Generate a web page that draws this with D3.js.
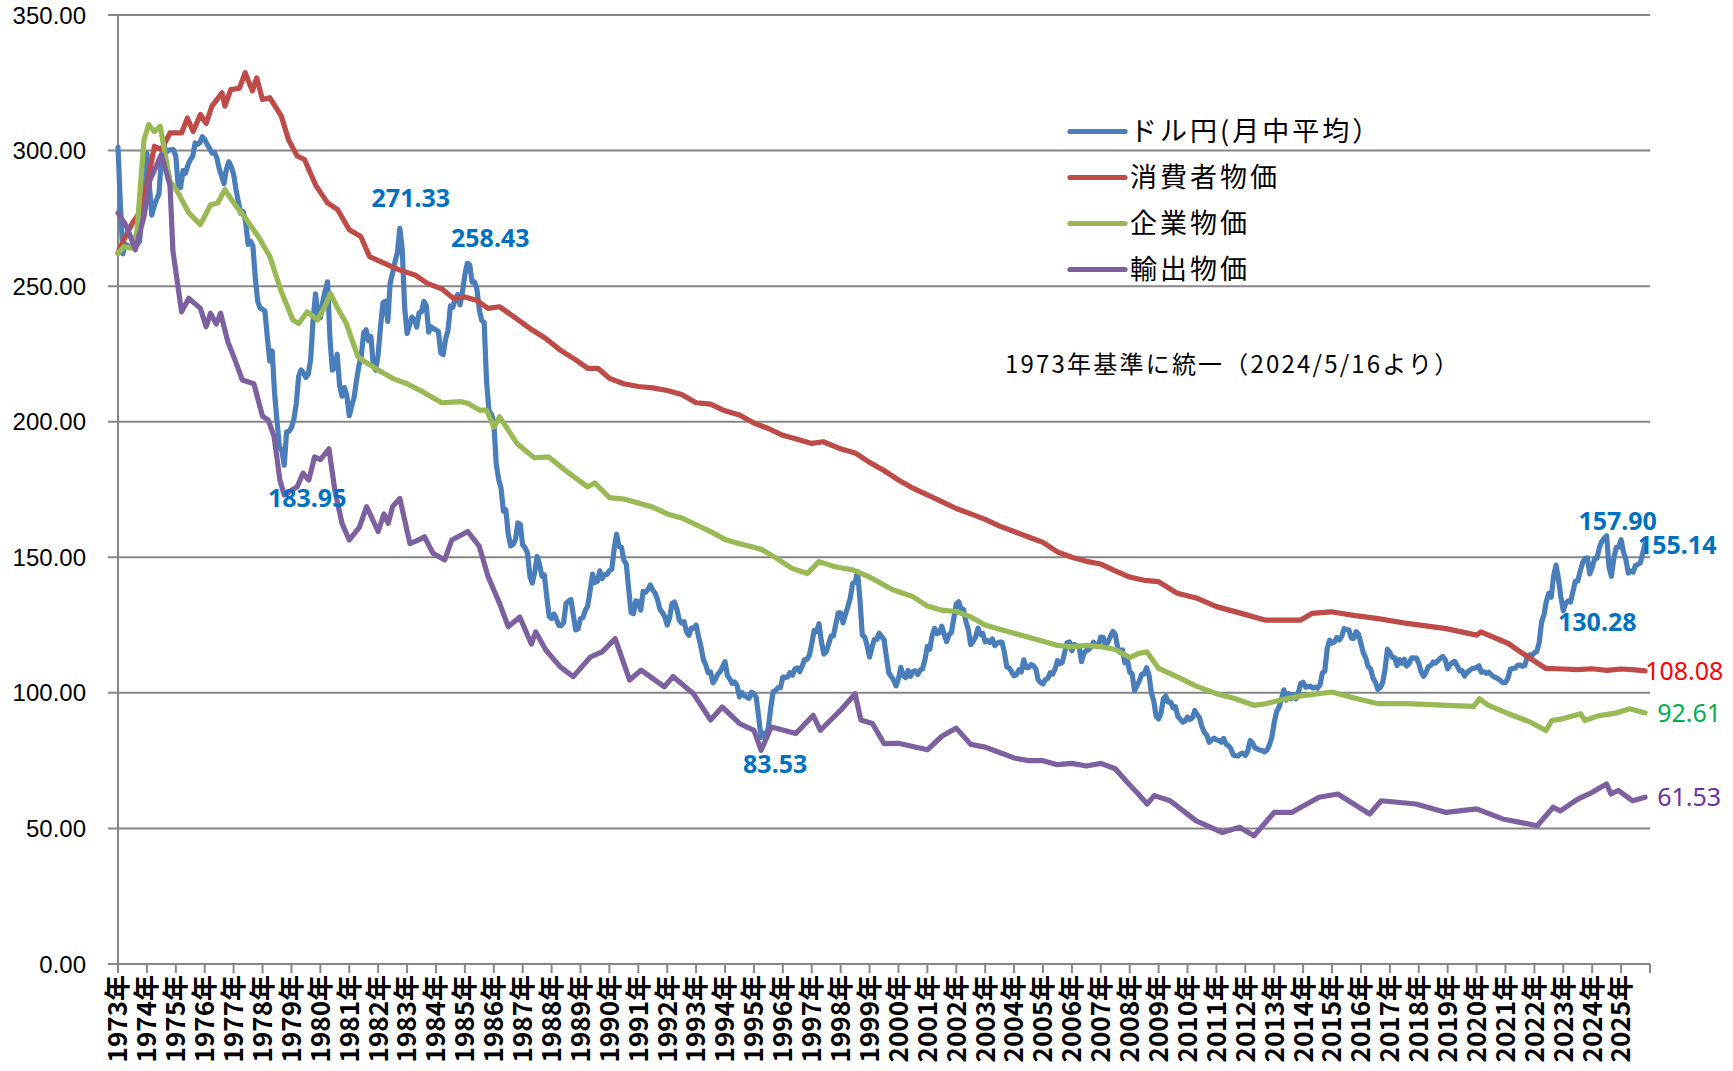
<!DOCTYPE html>
<html>
<head>
<meta charset="utf-8">
<script src="https://cdn.jsdelivr.net/npm/d3@7/dist/d3.min.js"></script>
<style>
  body { margin: 0; background: #ffffff; }
</style>
</head>
<body>
<div id="chart"></div>
<script>
// 目盛ラベル（年）
const yearLabels = ["1973","1974","1975","1976","1977","1978","1979","1980","1981","1982",
  "1983","1984","1985","1986","1987","1988","1989","1990","1991","1992","1993","1994",
  "1995","1996","1997","1998","1999","2000","2001","2002","2003","2004","2005","2006",
  "2007","2008","2009","2010","2011","2012","2013","2014","2015","2016","2017","2018",
  "2019","2020","2021","2022","2023","2024","2025"];
const yTicks = [0, 50, 100, 150, 200, 250, 300, 350];
const seriesNames = ["ドル円(月中平均）", "消費者物価", "企業物価", "輸出物価"];

// ドル円 月中平均 1973年1月から（1行 = 1年）
const usdJpy = [
  301.15,280.0,261.9,265.5,264.6,264.9,264.3,265.3,265.4,266.6,279.1,280.0,
  299.0,287.6,276.2,279.4,281.9,284.1,297.0,302.3,299.4,300.1,300.3,300.4,
  297.9,286.7,286.4,292.6,291.6,294.6,296.6,297.8,302.8,302.3,302.9,305.1,
  304.1,302.3,300.8,299.1,299.4,297.4,293.4,290.6,287.8,293.1,295.9,294.1,
  291.2,285.6,280.9,276.8,277.4,273.6,265.4,266.6,264.8,253.1,244.4,241.9,
  241.5,240.8,231.2,222.3,226.1,210.6,200.4,190.7,189.4,183.95,196.3,196.4,
  197.9,200.9,206.5,216.8,219.1,218.0,216.3,217.6,223.2,237.6,247.2,239.8,
  238.3,244.3,248.2,251.6,230.6,219.0,220.2,224.9,213.4,209.4,212.6,209.7,
  202.2,205.7,208.9,215.1,220.6,224.2,232.8,233.9,229.8,231.4,220.6,219.0,
  224.8,235.2,243.9,244.4,237.0,251.2,254.8,259.0,262.4,271.33,263.6,242.1,
  232.5,235.6,238.6,237.7,234.9,240.2,240.5,244.4,242.7,233.0,235.0,234.3,
  233.9,233.3,225.4,224.8,230.5,233.6,242.7,242.2,245.2,246.9,243.1,247.9,
  254.2,258.43,257.9,251.5,251.6,248.9,241.3,237.3,236.6,214.8,204.1,202.8,
  200.1,184.6,178.8,175.6,167.0,167.5,158.6,154.2,154.7,156.5,162.7,162.1,
  154.5,153.5,151.6,143.0,140.5,144.5,150.3,147.3,143.0,143.5,135.4,128.2,
  127.4,129.1,127.2,124.9,124.8,125.9,133.0,133.8,134.4,128.9,123.2,123.6,
  127.4,127.8,130.4,132.0,137.8,143.8,140.7,141.1,145.0,142.1,143.5,143.7,
  145.1,145.5,153.2,158.5,154.0,153.7,149.0,147.5,138.4,129.6,129.2,133.9,
  133.7,130.5,137.4,137.1,138.2,139.8,137.9,136.8,134.3,130.8,129.6,128.1,
  125.0,127.7,132.9,133.5,130.9,126.9,125.7,126.2,122.6,121.2,123.9,123.9,
  125.0,120.8,117.1,112.3,110.3,107.4,107.7,103.7,105.1,106.9,107.8,109.7,
  111.5,106.3,105.1,103.5,104.0,102.7,98.5,100.1,99.0,98.4,98.0,100.2,
  99.8,98.2,90.8,83.53,85.1,84.6,87.2,94.6,100.5,100.9,101.9,101.9,
  105.8,105.7,105.9,107.4,106.5,108.8,109.2,107.8,109.8,112.3,112.3,113.9,
  118.1,123.0,122.6,125.5,119.0,114.3,115.1,117.9,120.9,121.0,125.4,129.5,
  129.5,125.8,129.0,131.8,135.0,140.4,140.7,144.7,134.5,121.3,120.6,117.4,
  113.2,116.7,119.7,119.7,122.0,120.7,119.7,113.3,107.4,106.0,104.7,102.6,
  105.2,109.4,106.3,105.6,108.3,106.1,107.9,108.1,106.8,108.4,108.9,112.2,
  117.1,116.1,121.2,123.8,121.8,122.2,124.6,121.5,118.9,121.5,122.4,127.6,
  132.7,133.6,131.1,130.8,126.3,123.3,117.8,119.0,120.5,123.9,121.6,121.9,
  118.8,119.3,118.6,119.9,117.4,118.3,118.7,118.7,114.8,109.5,109.2,107.7,
  106.3,106.7,108.5,107.7,112.2,109.4,109.3,110.4,110.0,108.9,104.9,103.8,
  103.3,104.9,105.3,107.4,106.9,108.7,111.9,110.7,111.2,114.8,118.5,118.8,
  115.5,117.9,117.3,117.1,111.5,114.6,115.6,115.9,117.1,118.7,117.3,117.3,
  120.6,120.5,117.3,118.8,120.8,122.6,121.6,116.7,115.0,115.8,111.1,112.4,
  107.7,107.1,100.8,102.7,104.4,106.9,106.9,109.3,106.6,100.1,96.9,91.3,
  90.4,92.5,97.9,98.8,96.6,96.6,94.5,94.9,91.3,90.3,89.2,89.6,
  91.1,90.2,90.7,93.5,92.0,90.8,87.5,85.4,84.4,81.8,82.6,83.3,
  82.6,82.5,81.8,83.2,81.1,80.5,79.4,77.1,76.8,76.7,77.5,77.8,
  76.9,78.5,82.4,81.5,79.7,79.3,78.9,78.7,78.2,78.9,80.8,83.6,
  89.1,93.1,94.8,97.7,101.1,97.3,99.7,97.8,99.2,97.8,100.1,103.5,
  103.9,102.1,102.3,102.5,101.8,102.1,101.7,102.9,107.4,108.0,116.4,119.4,
  118.3,118.8,120.4,119.5,120.8,123.7,123.3,123.2,120.2,120.1,122.6,121.6,
  118.2,114.7,112.9,109.6,108.9,105.5,103.9,101.3,101.9,103.8,108.6,116.1,
  114.9,113.1,112.9,110.1,112.3,110.9,112.4,109.9,110.8,112.9,112.8,112.9,
  110.9,107.8,106.1,107.6,109.7,110.1,111.4,111.0,111.9,112.8,113.4,112.2,
  108.9,110.4,111.2,111.6,109.8,108.1,108.2,106.2,107.5,108.2,108.9,109.1,
  109.3,110.0,107.6,107.8,107.2,107.6,106.8,106.0,105.6,105.2,104.4,103.8,
  103.8,105.4,108.7,109.0,109.1,110.1,110.3,109.8,110.1,113.1,114.0,113.8,
  114.8,115.2,118.5,126.2,128.8,133.9,136.7,135.3,143.2,147.1,142.1,135.4,
  130.28,133.0,133.9,133.5,137.3,141.2,141.2,144.8,147.9,149.6,149.7,143.9,
  146.3,149.5,149.7,153.6,155.9,157.0,157.90,146.3,143.0,149.8,153.7,153.7,
  156.5,151.9,149.1,144.2,144.9,144.5,147.0,147.4,147.9,151.5,155.14
];

// 購買力平価（1973年基準） [年（小数）, 値] — 図から読み取り
const cpiPpp = [
  [1973.0,262.2],[1973.2,267],[1973.5,273.3],[1973.7,276.4],[1974.0,287],[1974.26,301.6],
  [1974.5,300.4],[1974.8,306.5],[1975.2,306.5],[1975.4,312],[1975.6,307],[1975.85,313.3],
  [1976.05,310],[1976.25,316.4],[1976.6,321.3],[1976.7,316.4],[1976.9,322.5],[1977.2,323],
  [1977.4,328.7],[1977.65,322],[1977.8,326.8],[1978.0,318.8],[1978.25,319.5],[1978.65,312.7],
  [1978.9,304],[1979.2,298],[1979.45,296.7],[1979.85,287],[1980.25,280.7],[1980.6,278.2],
  [1981.0,270.8],[1981.4,268.3],[1981.7,260.9],[1982.2,258.5],[1982.75,255.9],[1983.3,254],
  [1983.7,251],[1984.2,249],[1984.6,245.5],[1985.0,246],[1985.4,244.8],[1985.8,241.8],
  [1986.2,242.4],[1986.7,238.7],[1987.25,234.4],[1987.8,230.7],[1988.3,226.4],[1988.85,222.7],
  [1989.25,219.7],[1989.6,219.7],[1990.0,216],[1990.5,214],[1991.0,213],[1991.5,212.5],
  [1992.0,211.5],[1992.5,210],[1993.0,207],[1993.5,206.5],[1994.0,204],[1994.5,202.5],
  [1995.0,199.5],[1995.5,197.5],[1996.0,195],[1996.5,193.5],[1997.0,192],[1997.4,192.6],
  [1998.0,190],[1998.5,188.5],[1999.0,185],[1999.5,182],[2000.0,178.5],[2000.5,175.5],
  [2001.0,173],[2001.5,170.5],[2002.0,168],[2002.5,166],[2003.0,164],[2003.5,161.5],
  [2004.0,159.5],[2004.5,157.5],[2005.0,155.5],[2005.5,152],[2006.0,150],[2006.5,148.5],
  [2007.0,147.5],[2007.5,145],[2008.0,142.7],[2008.5,141.5],[2009.0,141],[2009.65,136.7],
  [2010.3,135],[2011.0,131.8],[2011.8,129.5],[2012.7,126.8],[2013.9,126.8],[2014.3,129.3],
  [2014.97,129.9],[2015.8,128.5],[2016.6,127.4],[2017.6,125.6],[2018.95,123.7],[2020.0,121.3],
  [2020.15,122.5],[2021.1,118.2],[2021.6,114.5],[2022.4,109],[2023.0,108.8],[2023.5,108.6],
  [2024.0,108.9],[2024.5,108.3],[2025.0,108.8],[2025.5,108.5],[2025.83,108.08]
];

const ppiPpp = [
  [1973.0,262],[1973.2,264.6],[1973.45,264],[1973.65,269.6],[1973.9,304],[1974.06,309.6],
  [1974.26,307],[1974.46,309],[1974.8,288.7],[1975.05,285],[1975.45,277],[1975.85,272.7],
  [1976.2,280],[1976.45,280.7],[1976.7,285.6],[1977.05,280],[1977.45,274.5],[1977.85,268.3],
  [1978.25,261],[1978.65,248],[1979.05,237.5],[1979.25,236.2],[1979.55,240.5],[1979.9,237.5],
  [1980.15,242.4],[1980.35,247.3],[1980.6,241.8],[1980.9,236.2],[1981.3,224],[1981.55,222],
  [1982.1,218.4],[1982.5,216],[1983.0,214],[1983.55,211],[1984.2,207],[1984.85,207.4],
  [1985.1,206.8],[1985.5,204.3],[1985.75,204.3],[1986.0,198],[1986.2,201.8],[1986.8,192],
  [1987.4,186.7],[1987.9,187],[1988.6,181],[1989.25,176],[1989.5,177.4],[1990.0,172],
  [1990.5,171.5],[1991.0,170],[1991.5,168.5],[1992.0,166],[1992.5,164.5],[1993.0,162],
  [1993.5,159.5],[1994.0,156.6],[1994.5,155],[1995.0,153.7],[1995.3,152.7],[1995.8,149.5],
  [1996.3,146],[1996.85,144],[1997.25,148.4],[1997.8,146.5],[1998.45,145.3],[1999.0,142.7],
  [1999.8,138],[2000.5,135.5],[2001.0,132],[2001.5,130.5],[2002.0,130],[2002.5,128],
  [2003.0,125],[2003.5,123.5],[2004.0,122],[2004.5,120.5],[2005.0,119],[2005.5,117.5],
  [2006.0,117],[2006.5,117.5],[2007.0,117],[2007.5,116],[2008.0,113],[2008.3,114.5],
  [2008.6,115.1],[2009.0,109],[2009.65,105.9],[2010.3,102.5],[2011.0,99.7],[2011.6,98],
  [2012.3,95.4],[2012.7,96],[2013.4,97.8],[2014.0,99],[2015.0,100.3],[2015.8,98],
  [2016.6,96],[2017.6,96],[2019.0,95.4],[2019.9,95],[2020.1,97.8],[2020.4,95.5],
  [2021.1,92.3],[2021.8,89.5],[2022.4,86.1],[2022.6,89.8],[2023.0,90.5],[2023.6,92.3],
  [2023.75,89.8],[2024.2,91.5],[2024.8,92.5],[2025.3,94.1],[2025.83,92.61]
];

const exportPpp = [
  [1973.0,277],[1973.15,274.5],[1973.3,272],[1973.6,263.4],[1973.9,275.7],[1974.1,289],
  [1974.5,298.5],[1974.8,287],[1974.9,263],[1975.2,240.5],[1975.45,245.5],[1975.85,241.8],
  [1976.05,235],[1976.2,240],[1976.4,236],[1976.55,240],[1976.8,229.5],[1977.05,222.7],
  [1977.3,215.4],[1977.7,214],[1978.0,202],[1978.2,200.6],[1978.4,194.5],[1978.6,178.5],
  [1978.75,173],[1979.2,176],[1979.4,181],[1979.6,178.5],[1979.8,187],[1980.0,186],
  [1980.3,190],[1980.5,174.8],[1980.75,162.5],[1981.0,156.4],[1981.35,161],[1981.6,168.7],
  [1982.0,159.5],[1982.2,166],[1982.35,162.5],[1982.5,168.7],[1982.75,171.7],[1983.1,155],
  [1983.4,156.4],[1983.6,157.6],[1983.9,151.5],[1984.3,149],[1984.55,156.4],[1985.1,159.5],
  [1985.5,154],[1985.8,143],[1986.2,133],[1986.5,124.4],[1986.9,128],[1987.3,118],
  [1987.45,122.5],[1987.8,115.8],[1988.3,109.6],[1988.75,106],[1989.35,113.3],[1989.75,115.1],
  [1990.2,120],[1990.7,104.7],[1991.1,108.4],[1991.9,102.2],[1992.2,106],[1992.9,99.8],
  [1993.5,90],[1993.9,94.8],[1994.5,88.7],[1995.0,86.2],[1995.25,78.8],[1995.6,87.4],
  [1996.45,85],[1997.05,91.7],[1997.3,86.2],[1998.0,93.6],[1998.5,99.7],[1998.7,90],
  [1999.1,88.7],[1999.5,81.3],[2000.0,81.4],[2001.0,79],[2001.5,84],[2002.0,87],
  [2002.5,81],[2003.0,80],[2003.5,78],[2004.0,76],[2004.5,75],[2005.0,75],
  [2005.5,73.5],[2006.0,74],[2006.5,73],[2007.0,74],[2007.5,72],[2008.0,66],
  [2008.3,62.7],[2008.6,59],[2008.85,62.1],[2009.4,60.2],[2010.3,52.8],[2011.2,48.5],
  [2011.8,50.4],[2012.3,47.3],[2013.0,55.9],[2013.6,55.9],[2014.55,61.5],[2015.2,62.7],
  [2016.3,55.3],[2016.7,60.2],[2017.9,59],[2018.95,55.9],[2020.0,57.2],[2020.9,53.5],
  [2022.1,51],[2022.65,57.8],[2022.9,56.5],[2023.5,60.8],[2024.0,63.3],[2024.5,66.4],
  [2024.65,62.7],[2024.9,64],[2025.4,60.2],[2025.83,61.53]
];

// ドル円の注記 [年, 月, 値]
const usdJpyNotes = [[1982,10,271.33],[1985,2,258.43],[1978,10,183.95],[1995,4,83.53],
  [2024,7,157.90],[2023,1,130.28],[2025,11,155.14]];
const endValues = [108.08, 92.61, 61.53];
const noteText = "1973年基準に統一（2024/5/16より）";

document.addEventListener("DOMContentLoaded", function () {
  const width = 1733, height = 1071;
  const left = 118, right = 1650, top = 15, bottom = 964;

  const lineColors = ["#4A7EBB", "#BE4B48", "#98B954", "#7D60A0"];
  const gridColor = "#868686";
  const numFont = "'Noto Sans', 'Noto Sans CJK JP', sans-serif";
  const axisFont = "'Liberation Sans', Arial, sans-serif";
  const jpFont = "'Noto Sans CJK JP', 'Noto Sans', sans-serif";

  const svg = d3.select("#chart").append("svg")
    .attr("width", width).attr("height", height)
    .style("background", "#ffffff");

  const x = d3.scaleLinear().domain([1973, 2026]).range([left, right]);
  const y = d3.scaleLinear().domain([0, 350]).range([bottom, top]);

  // 横グリッド
  svg.append("g").selectAll("line")
    .data(yTicks).enter().append("line")
    .attr("x1", left - 10).attr("x2", right)
    .attr("y1", d => y(d)).attr("y2", d => y(d))
    .style("stroke", gridColor).style("stroke-width", 2);

  // 縦軸
  svg.append("line")
    .attr("x1", left).attr("x2", left).attr("y1", y(350)).attr("y2", y(0))
    .style("stroke", gridColor).style("stroke-width", 2);

  svg.append("g").selectAll("text")
    .data(yTicks).enter().append("text")
    .attr("x", 86).attr("y", d => y(d))
    .attr("dy", "0.36em")
    .attr("text-anchor", "end")
    .style("font-family", axisFont).style("font-size", "24px").style("fill", "#000")
    .text(d => d.toFixed(2));

  // 横軸の目盛
  const tickYears = yearLabels.map(Number).concat([2026]);
  svg.append("g").selectAll("line")
    .data(tickYears).enter().append("line")
    .attr("x1", d => x(d)).attr("x2", d => x(d))
    .attr("y1", y(0)).attr("y2", y(0) + 9)
    .style("stroke", gridColor).style("stroke-width", 2);

  svg.append("g").selectAll("text")
    .data(yearLabels).enter().append("text")
    .attr("transform", d => "translate(" + x(+d) + "," + (y(0) + 11) + ") rotate(-90)")
    .attr("dy", "0.36em")
    .attr("text-anchor", "end")
    .style("font-family", jpFont).style("font-weight", "bold")
    .style("font-size", "26px").style("fill", "#000")
    .text(d => d + "年");

  // 系列
  const line = d3.line().x(d => x(d[0])).y(d => y(d[1]));
  const blueData = usdJpy.map((v, i) => [1973 + i / 12, v]);
  const allSeries = [blueData, cpiPpp, ppiPpp, exportPpp];

  svg.append("g").selectAll("path")
    .data(allSeries).enter().append("path")
    .attr("d", d => line(d))
    .style("fill", "none")
    .style("stroke", (d, i) => lineColors[i])
    .style("stroke-width", 5.2)
    .style("stroke-linejoin", "round")
    .style("stroke-linecap", "round");

  // 凡例
  const legend = svg.append("g").selectAll("g")
    .data(seriesNames).enter().append("g")
    .attr("transform", (d, i) => "translate(1070," + (131.5 + i * 46) + ")");
  legend.append("line")
    .attr("x1", 0).attr("x2", 55).attr("y1", 0).attr("y2", 0)
    .style("stroke", (d, i) => lineColors[i])
    .style("stroke-width", 5.2).style("stroke-linecap", "round");
  legend.append("text")
    .attr("x", 60).attr("dy", "0.36em")
    .style("font-family", jpFont).style("font-size", "27px")
    .style("letter-spacing", "3px").style("fill", "#000")
    .text(d => d);

  svg.append("text")
    .attr("x", 1005).attr("y", 373)
    .style("font-family", jpFont).style("font-size", "24px")
    .style("letter-spacing", "2.2px").style("fill", "#000")
    .text(noteText);

  // ドル円の注記ラベル
  const noteOffsets = [[11, -30], [23, -25], [23, 33], [14, 26], [11, -15], [34, 11], [32, 2]];
  svg.append("g").selectAll("text")
    .data(usdJpyNotes).enter().append("text")
    .attr("x", (d, i) => x(d[0] + (d[1] - 1) / 12) + noteOffsets[i][0])
    .attr("y", (d, i) => y(d[2]) + noteOffsets[i][1])
    .attr("dy", "0.36em")
    .attr("text-anchor", "middle")
    .style("font-family", numFont).style("font-weight", "bold")
    .style("font-size", "25px").style("fill", "#0070C0")
    .text(d => d[2].toFixed(2));

  // 末尾の値
  const endColors = ["#FF0000", "#00B050", "#7030A0"];
  const endDx = [0, 12, 12];
  svg.append("g").selectAll("text")
    .data(endValues).enter().append("text")
    .attr("x", (d, i) => x(2025 + 10 / 12) + endDx[i])
    .attr("y", d => y(d))
    .attr("dy", "0.36em")
    .style("font-family", numFont).style("font-size", "25px")
    .style("fill", (d, i) => endColors[i])
    .text(d => d.toFixed(2));
});
</script>
</body>
</html>
